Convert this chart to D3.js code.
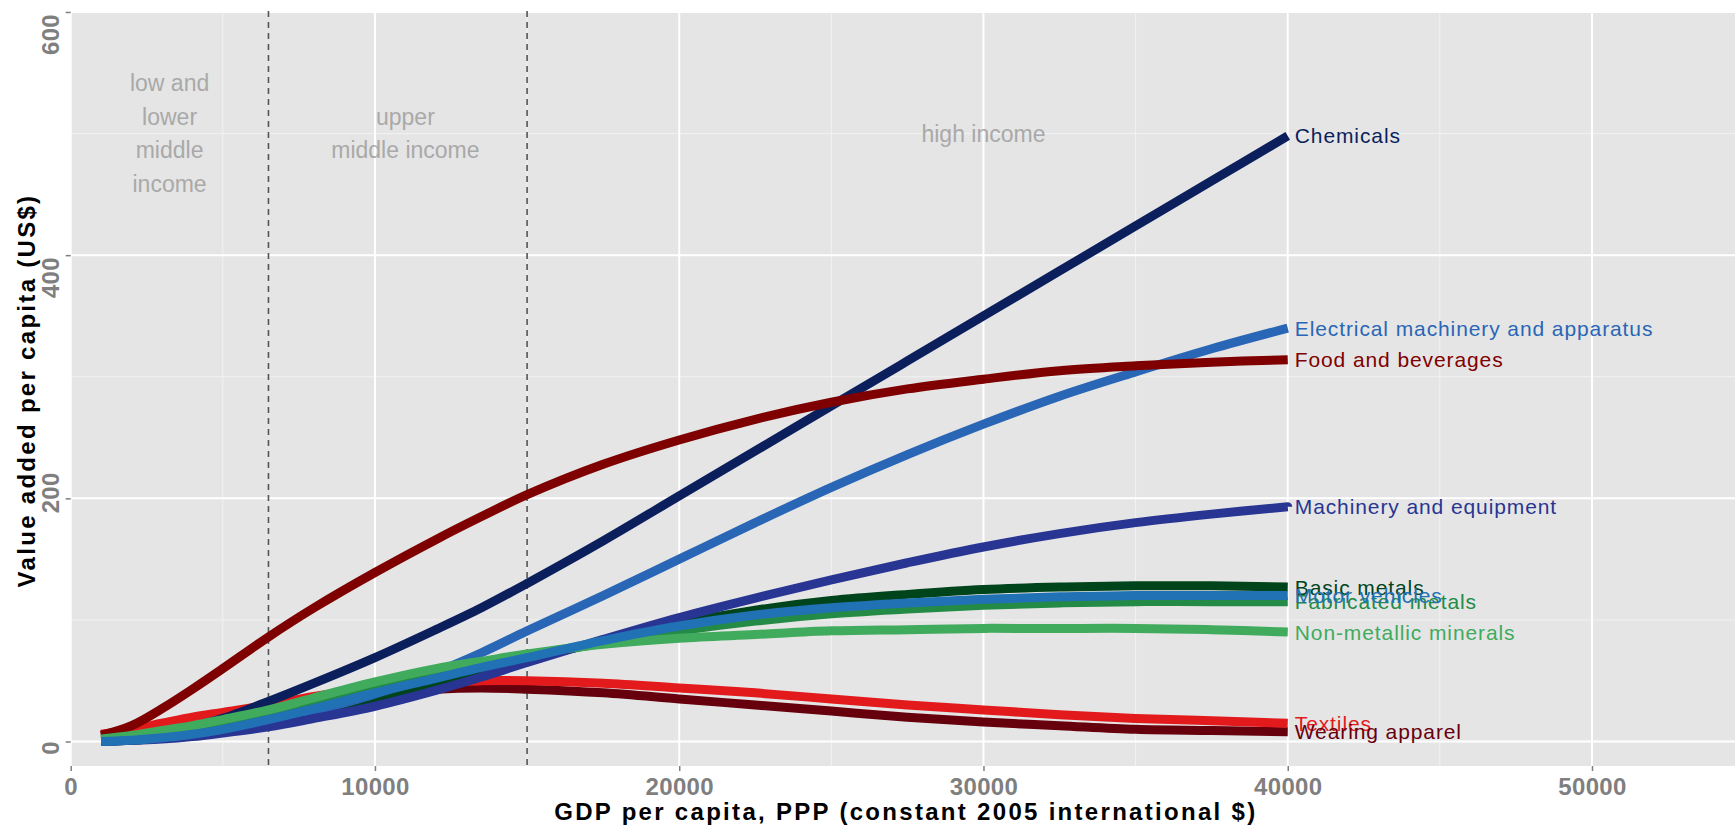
<!DOCTYPE html>
<html><head><meta charset="utf-8">
<script src="https://cdn.jsdelivr.net/npm/d3@7"></script>
<style>body{margin:0;background:#fff}svg{display:block}</style>
</head><body>
<svg id="chart" width="1735" height="828"></svg>
<script>
// ---------------- data ----------------
const gdp = [1000, 2000, 3000, 4000, 5000, 6500, 8000, 10000, 12000, 13500, 15000, 17500, 20000, 22500, 25000, 27500, 30000, 32500, 35000, 37500, 40000];

const basicMetals   = [0, 1, 3, 5, 8, 14, 22, 34, 47, 57, 67, 83, 97, 108, 116, 121, 125, 127, 128, 128, 127];
const chemicals     = [1, 3, 7, 12, 19, 33, 48, 69, 92, 110, 130, 165, 202, 239, 276, 313, 350, 387, 424, 461, 498];
const electrical    = [0, 1, 3, 6, 10, 16, 25, 39, 57, 73, 91, 120, 150, 180, 209, 236, 261, 284, 304, 323, 340];
const fabricated    = [1, 3, 5, 8, 13, 21, 31, 43, 55, 63, 70, 81, 91, 99, 105, 109, 112, 114, 115, 115, 115];
const food          = [5, 13, 27, 43, 60, 86, 110, 139, 166, 185, 203, 228, 248, 265, 279, 290, 298, 305, 309, 312, 314];
const machinery     = [0, 1, 2, 4, 7, 12, 19, 29, 42, 53, 65, 84, 102, 118, 133, 147, 160, 171, 180, 187, 193];
const motorVehicles = [0, 1, 3, 6, 10, 18, 27, 40, 52, 61, 69, 83, 95, 104, 110, 114, 117, 119, 120, 120, 120];
const nonMetallic   = [2, 5, 9, 13, 18, 26, 36, 49, 60, 66, 72, 80, 85, 88, 91, 92, 93, 93, 93, 92, 90];
const textiles      = [6, 10, 15, 20, 24, 30, 37, 44, 48, 50, 50, 48, 44, 40, 35, 30, 26, 22, 19, 17, 15];
const wearing       = [3, 6, 10, 14, 18, 24, 32, 39, 43, 44, 43, 40, 35, 30, 25, 20, 16, 13, 10, 9, 8];

const seriesNames = ["Basic metals", "Chemicals", "Electrical machinery and apparatus", "Fabricated metals",
  "Food and beverages", "Machinery and equipment", "Motor vehicles", "Non-metallic minerals", "Textiles", "Wearing apparel"];
const seriesValues = [basicMetals, chemicals, electrical, fabricated, food, machinery, motorVehicles, nonMetallic, textiles, wearing];
const seriesColors = ["#00441b", "#0b1f5c", "#2a66b6", "#238b45", "#7f0000", "#283593", "#2171b5", "#41ab5d", "#e31a1c", "#67000d"];
const drawOrder = [9, 8, 0, 1, 2, 3, 4, 5, 7, 6];

const xTicks = [0, 10000, 20000, 30000, 40000, 50000];
const xMinor = [5000, 15000, 25000, 35000, 45000];
const yTicks = [0, 200, 400, 600];
const yMinor = [100, 300, 500];
const incomeThresholds = [6500, 15000];
const incomeBands = [
  { x: 3250,  lines: ["low and", "lower", "middle", "income"] },
  { x: 11000, lines: ["upper", "middle income"] },
  { x: 30000, lines: ["high income"] }
];
const incomeLabelValue = 500;
const xTitle = "GDP per capita, PPP (constant 2005 international $)";
const yTitle = "Value added per capita (US$)";

// ---------------- layout ----------------
const svg = d3.select("#chart");
const P = { left: 70.7, right: 1735, top: 11, bottom: 766 };
const x = d3.scaleLinear().domain([0, 54700]).range([P.left, P.right]);
const y = d3.scaleLinear().domain([-20.15, 600.8]).range([P.bottom, P.top]);
const FONT = "'Liberation Sans', Arial, Helvetica, sans-serif";

svg.append("rect").attr("width", 1735).attr("height", 828).attr("fill", "#ffffff");
svg.append("rect").attr("x", P.left).attr("y", P.top)
  .attr("width", P.right - P.left).attr("height", P.bottom - P.top).attr("fill", "#e5e5e5");

// grid
const grid = svg.append("g");
grid.selectAll(".xm").data(xMinor).join("line")
  .attr("x1", d => x(d)).attr("x2", d => x(d)).attr("y1", P.top).attr("y2", P.bottom)
  .attr("stroke", "#f2f2f2").attr("stroke-width", 1);
grid.selectAll(".ym").data(yMinor).join("line")
  .attr("y1", d => y(d)).attr("y2", d => y(d)).attr("x1", P.left).attr("x2", P.right)
  .attr("stroke", "#f2f2f2").attr("stroke-width", 1);
grid.selectAll(".xM").data(xTicks).join("line")
  .attr("x1", d => x(d)).attr("x2", d => x(d)).attr("y1", P.top).attr("y2", P.bottom)
  .attr("stroke", "#ffffff").attr("stroke-width", 2);
grid.selectAll(".yM").data(yTicks).join("line")
  .attr("y1", d => y(d)).attr("y2", d => y(d)).attr("x1", P.left).attr("x2", P.right)
  .attr("stroke", "#ffffff").attr("stroke-width", 2);

// income thresholds
svg.append("g").selectAll("line").data(incomeThresholds).join("line")
  .attr("x1", d => x(d)).attr("x2", d => x(d)).attr("y1", P.top).attr("y2", P.bottom)
  .attr("stroke", "#555555").attr("stroke-width", 1.6).attr("stroke-dasharray", "6,5");

// income band labels
const lineGap = 33.4;
const bandG = svg.append("g").attr("font-family", FONT).attr("font-size", 23)
  .attr("fill", "#a9a9a9").attr("text-anchor", "middle");
incomeBands.forEach(b => {
  const n = b.lines.length;
  const centerBase = y(incomeLabelValue) + 8;
  b.lines.forEach((t, i) => {
    bandG.append("text").attr("x", x(b.x))
      .attr("y", centerBase + (i - (n - 1) / 2) * lineGap).text(t);
  });
});

// lines
const line = d3.line().x((d, i) => x(gdp[i])).y(d => y(d)).curve(d3.curveCatmullRom.alpha(0.5));
const linesG = svg.append("g");
drawOrder.forEach(k => {
  linesG.append("path").attr("d", line(seriesValues[k])).attr("fill", "none")
    .attr("stroke", seriesColors[k]).attr("stroke-width", 9)
    .attr("stroke-linecap", "butt").attr("stroke-linejoin", "round");
});

// end labels
const labG = svg.append("g").attr("font-family", FONT).attr("font-size", 21).attr("letter-spacing", 0.9);
seriesValues.forEach((vals, k) => {
  labG.append("text").attr("x", x(gdp[gdp.length - 1]) + 7)
    .attr("y", y(vals[vals.length - 1]) + 7.5)
    .attr("fill", seriesColors[k]).text(seriesNames[k]);
});

// x axis
const xAxis = svg.append("g").attr("transform", `translate(0,${P.bottom})`)
  .call(d3.axisBottom(x).tickValues(xTicks).tickFormat(d3.format("d")).tickSize(5).tickPadding(7));
xAxis.select(".domain").remove();
xAxis.selectAll("line").attr("stroke", "#7f7f7f").attr("stroke-width", 1.5);
xAxis.selectAll("text").attr("font-family", FONT).attr("font-size", 24).attr("font-weight", "bold")
  .attr("fill", "#7f7f7f").attr("letter-spacing", 0.3);

// y axis (rotated labels)
const yNudge = { 0: 6, 200: -6, 400: 22, 600: 22 };
const yAxis = svg.append("g").attr("transform", `translate(${P.left},0)`)
  .call(d3.axisLeft(y).tickValues(yTicks).tickFormat(d3.format("d")).tickSize(5));
yAxis.select(".domain").remove();
yAxis.selectAll("line").attr("stroke", "#7f7f7f").attr("stroke-width", 1.5);
yAxis.selectAll("text")
  .attr("x", null).attr("dy", null)
  .attr("transform", d => `translate(-12,${yNudge[d] || 0}) rotate(-90)`)
  .attr("text-anchor", "middle")
  .attr("font-family", FONT).attr("font-size", 24).attr("font-weight", "bold")
  .attr("fill", "#7f7f7f").attr("letter-spacing", 0.3);

// titles
svg.append("text").attr("x", (P.left + P.right) / 2 + 3).attr("y", 820)
  .attr("text-anchor", "middle").attr("font-family", FONT).attr("font-size", 24)
  .attr("font-weight", "bold").attr("letter-spacing", 2.3).attr("fill", "#000").text(xTitle);
svg.append("text").attr("transform", `translate(35,${(P.top + P.bottom) / 2 + 2}) rotate(-90)`)
  .attr("text-anchor", "middle").attr("font-family", FONT).attr("font-size", 24)
  .attr("font-weight", "bold").attr("letter-spacing", 2.3).attr("fill", "#000").text(yTitle);
</script>
</body></html>
